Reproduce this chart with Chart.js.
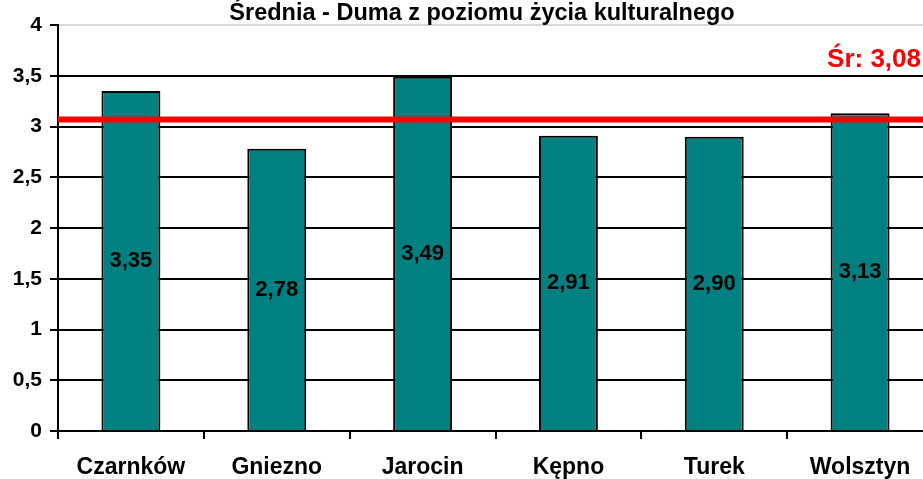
<!DOCTYPE html>
<html>
<head>
<meta charset="utf-8">
<script src="https://cdn.jsdelivr.net/npm/chart.js@4.4.0/dist/chart.umd.min.js"></script>
<style>
html,body{margin:0;padding:0;background:#fff;overflow:hidden;width:923px;height:479px;}
canvas{display:block;}
</style>
</head>
<body>
<canvas id="c" width="935" height="479"></canvas>
<script>
const categories = ["Czarnków", "Gniezno", "Jarocin", "Kępno", "Turek", "Wolsztyn"];
const values = [3.35, 2.78, 3.49, 2.91, 2.90, 3.13];
const average = 3.07;
const averageLabel = "Śr: 3,08";
const titleText = "Średnia - Duma z poziomu życia kulturalnego";
const yTicks = [0, 0.5, 1, 1.5, 2, 2.5, 3, 3.5, 4];

const FONT = "'Liberation Sans', Arial, sans-serif";
const fmt = v => String(v).replace('.', ',');

const overlay = {
  id: 'overlay',
  afterDatasetsDraw(chart) {
    const ctx = chart.ctx;
    const meta = chart.getDatasetMeta(0);
    const y0 = chart.scales.y.getPixelForValue(0);
    ctx.save();
    ctx.fillStyle = '#000';
    ctx.font = "bold 22px " + FONT;
    ctx.textAlign = 'center';
    ctx.textBaseline = 'middle';
    meta.data.forEach((bar, i) => {
      const mid = (bar.y + y0) / 2;
      ctx.fillText(values[i].toFixed(2).replace('.', ','), bar.x, mid);
    });
    // average line
    const ya = chart.scales.y.getPixelForValue(average);
    ctx.strokeStyle = '#ff0000';
    ctx.lineWidth = 6;
    ctx.beginPath();
    ctx.moveTo(chart.chartArea.left, ya);
    ctx.lineTo(chart.width, ya);
    ctx.stroke();
    ctx.fillStyle = '#ff0000';
    ctx.font = "bold 26px " + FONT;
    ctx.textAlign = 'right';
    ctx.textBaseline = 'alphabetic';
    ctx.fillText(averageLabel, 921, 67);
    // title
    ctx.fillStyle = '#000';
    ctx.font = "bold 23.5px " + FONT;
    ctx.textAlign = 'center';
    ctx.fillText(titleText, 482, 20);
    ctx.restore();
  }
};

new Chart(document.getElementById('c'), {
  type: 'bar',
  data: {
    labels: categories,
    datasets: [{
      data: values,
      backgroundColor: '#008080',
      borderColor: '#000',
      borderWidth: 2,
      borderSkipped: 'bottom',
      categoryPercentage: 1,
      barPercentage: 0.404
    }]
  },
  options: {
    responsive: false,
    animation: false,
    devicePixelRatio: 1,
    layout: { padding: { top: 25, left: 0, right: 2, bottom: 0 } },
    plugins: { legend: { display: false }, tooltip: { enabled: false }, title: { display: false } },
    scales: {
      x: {
        grid: { display: true, drawOnChartArea: false, drawTicks: true, tickLength: 8, color: '#000', lineWidth: 2, offset: true },
        border: { display: true, color: '#000', width: 2 },
        ticks: { color: '#000', font: { family: FONT, size: 23, weight: 'bold' }, padding: 15, maxRotation: 0 },
        afterFit(s) { s.height = 48; }
      },
      y: {
        min: 0, max: 4,
        afterBuildTicks(s) { s.ticks = yTicks.map(v => ({ value: v })); },
        grid: {
          color: c => (c.tick && c.tick.value === 4) ? '#d9d9d9' : '#000',
          lineWidth: 2,
          tickLength: 8,
          tickColor: '#000'
        },
        border: { display: true, color: '#000', width: 2 },
        ticks: { color: '#000', font: { family: FONT, size: 21, weight: 'bold' }, padding: 8, callback: v => fmt(v) },
        afterFit(s) { s.width = 58; }
      }
    }
  },
  plugins: [overlay]
});
</script>
</body>
</html>
